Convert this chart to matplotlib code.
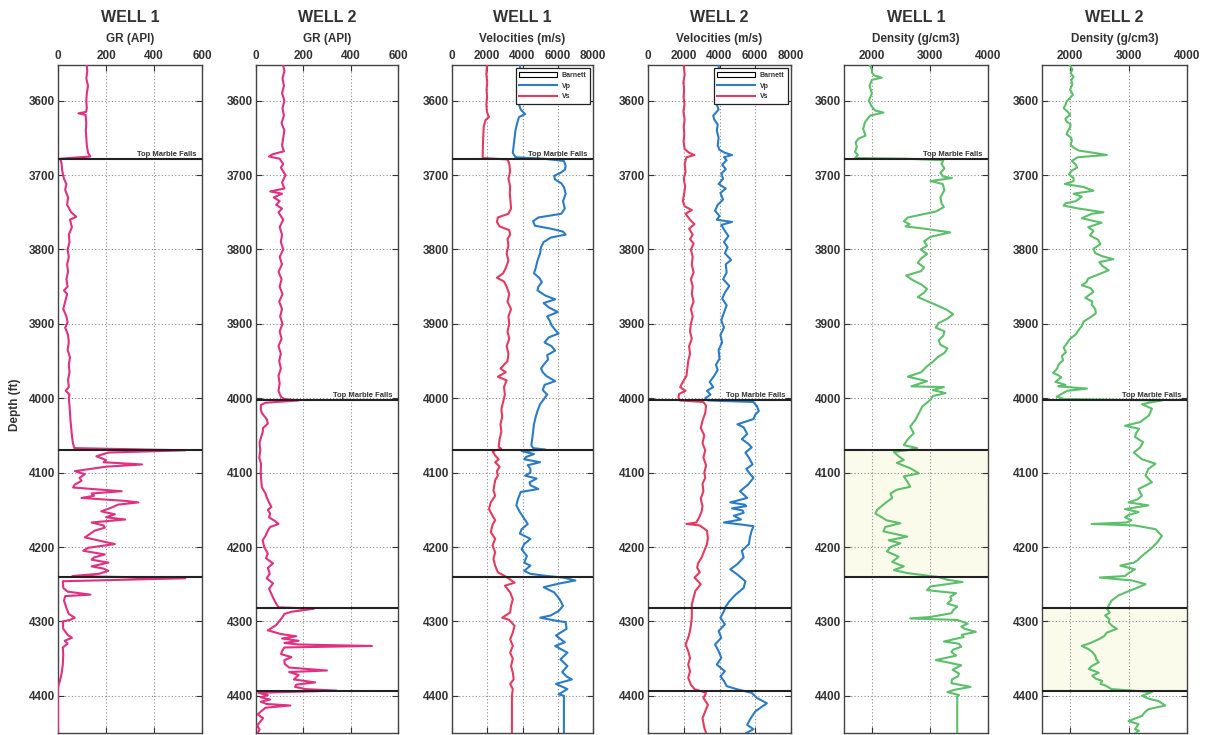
import matplotlib
matplotlib.use("Agg")
import matplotlib.pyplot as plt
from matplotlib.patches import Patch
from matplotlib.lines import Line2D
import matplotlib.transforms as mtransforms

plt.rcParams['font.family'] = ['Liberation Sans', 'DejaVu Sans']

# ---------------- data ----------------
WELL_TITLES = ["WELL 1", "WELL 2", "WELL 1", "WELL 2", "WELL 1", "WELL 2"]
TRACK_LABELS = ["GR (API)", "GR (API)", "Velocities (m/s)", "Velocities (m/s)",
                "Density (g/cm3)", "Density (g/cm3)"]
DEPTH_TICKS = [3600, 3700, 3800, 3900, 4000, 4100, 4200, 4300, 4400]
GR_TICKS = [0, 200, 400, 600]
VEL_TICKS = [0, 2000, 4000, 6000, 8000]
DEN_TICKS = [2000, 3000, 4000]
LEGEND_LABELS = ["Barnett", "Vp", "Vs"]
TOP_LABEL = "Top Marble Falls"

# formation tops (ft): Top Marble Falls, Barnett top, Barnett base
W1_TOPS = [3678, 4070, 4240]
W2_TOPS = [4003, 4282, 4393]

GR1_DEPTH = [3553,3560,3570,3580,3590,3600,3610,3615,3617,3619,3630,3640,3650,3660,3670,3675,3678,
             3685,3695,3705,3712,3720,3730,3740,3750,3756,3760,3770,3780,3790,3800,3810,3820,3830,
             3840,3850,3855,3860,3870,3880,3890,3898,3905,3915,3925,3935,3945,3955,3965,3975,3985,
             3990,3995,4000,4010,4020,4030,4040,4050,4060,4067,4070,4073,4078,4083,4086,4089,4092,
             4098,4102,4107,4111,4116,4120,4125,4128,4131,4134,4138,4140,4143,4147,4152,4156,4160,
             4163,4167,4171,4174,4178,4183,4187,4192,4196,4201,4205,4210,4214,4217,4221,4226,4229,
             4232,4236,4239,4242,4246,4255,4260,4264,4266,4272,4282,4290,4295,4298,4300,4310,4318,
             4322,4326,4330,4335,4345,4358,4370,4380,4386,4390,4450]
GR1_VALUES = [120,122,118,125,120,118,120,117,85,115,118,116,118,120,125,135,10,
              15,18,25,35,30,42,38,55,76,50,58,45,48,40,45,38,42,
              35,40,25,38,30,22,35,40,30,42,45,40,50,45,48,42,45,
              32,48,45,48,50,52,55,58,62,68,530,210,160,200,190,350,200,
              70,112,90,98,70,63,265,140,150,98,280,335,250,223,180,237,200,
              280,140,190,195,153,130,112,180,237,126,105,195,150,140,210,140,190,
              210,170,60,530,20,22,40,135,30,25,35,45,70,50,20,22,40,
              58,28,40,20,22,20,15,8,2,0,0]

GR2_DEPTH = [3553,3560,3570,3580,3590,3600,3610,3620,3630,3640,3650,3660,3668,3672,3675,3678,3685,
             3690,3700,3710,3718,3722,3725,3730,3735,3740,3745,3750,3760,3770,3780,3790,3800,3810,
             3820,3830,3840,3850,3860,3870,3880,3890,3900,3910,3920,3930,3940,3950,3960,3970,3980,
             3990,3998,4001,4003,4006,4009,4015,4020,4028,4034,4040,4046,4054,4060,4070,4080,4088,
             4100,4110,4120,4128,4133,4140,4146,4150,4155,4160,4165,4169,4173,4178,4185,4191,4200,
             4209,4215,4222,4228,4236,4242,4249,4256,4263,4270,4276,4281,4283,4287,4290,4295,4299,
             4305,4312,4317,4320,4323,4326,4329,4331,4333,4335,4340,4344,4348,4352,4357,4362,4366,
             4368,4372,4375,4378,4382,4385,4388,4391,4393,4396,4399,4402,4405,4408,4411,4413,4416,
             4420,4425,4430,4434,4440,4445,4450]
GR2_VALUES = [115,120,112,118,110,120,112,118,108,120,115,110,118,70,55,100,115,
              105,125,110,120,60,110,75,100,85,110,95,115,100,110,105,115,100,
              110,95,108,100,112,98,110,102,112,100,108,95,105,98,105,95,100,
              95,105,120,180,40,21,20,25,45,50,30,28,20,15,18,14,21,
              20,22,25,40,45,55,65,50,60,55,80,95,60,50,40,28,35,
              50,42,72,50,58,45,72,55,65,75,85,95,245,150,120,110,100,
              85,50,106,170,110,180,120,180,490,120,110,106,150,120,121,140,300,
              140,180,170,160,250,170,165,210,340,10,50,20,60,20,45,145,40,
              25,7,30,20,5,15,8]

VS1_DEPTH = [3553,3565,3575,3585,3595,3605,3615,3622,3626,3635,3645,3655,3665,3675,3677,3679,3685,
             3695,3705,3715,3725,3735,3745,3752,3757,3763,3769,3774,3780,3786,3795,3805,3815,3825,
             3832,3838,3843,3850,3860,3870,3880,3890,3900,3910,3920,3930,3940,3950,3960,3965,3971,
             3976,3985,3995,4005,4015,4025,4035,4045,4055,4065,4068,4071,4077,4082,4086,4092,4098,
             4104,4110,4117,4124,4131,4140,4149,4158,4164,4170,4180,4189,4198,4207,4216,4225,4234,
             4239,4242,4248,4252,4261,4270,4279,4288,4295,4298,4306,4315,4324,4333,4342,4350,4360,
             4369,4378,4384,4391,4400,4450]
VS1_VALUES = [1980,1950,2000,1960,1990,1950,1980,2100,1900,1800,1780,1760,1750,1740,1750,3150,3250,
              3300,3200,3300,3280,3320,3350,3200,2600,2550,2700,3250,3300,3150,3200,3100,3200,3050,
              2900,2550,2950,3100,3250,3150,3350,3200,3250,3150,3250,3100,3200,3150,2750,3050,2600,
              3100,2950,3000,2900,2800,2850,2750,2800,2700,2650,2800,2300,2450,2650,2450,2700,2550,
              2600,2450,2400,2350,2450,2200,2100,2300,2450,2300,2200,2450,2300,2450,2350,2450,2600,
              3000,3200,3550,3000,3300,3450,3350,3300,2850,3250,3550,3450,3300,3450,3300,3450,3350,
              3450,3500,3300,3450,3400,3400]

VP1_DEPTH = [3553,3565,3575,3585,3595,3605,3612,3618,3622,3630,3640,3650,3660,3670,3676,3678,3681,
             3688,3693,3697,3701,3706,3711,3716,3725,3735,3745,3752,3757,3762,3768,3772,3776,3780,
             3784,3790,3797,3805,3815,3825,3832,3838,3844,3850,3855,3862,3867,3872,3878,3884,3890,
             3896,3902,3908,3913,3918,3925,3930,3936,3942,3948,3955,3960,3965,3970,3977,3982,3989,
             3995,4000,4008,4017,4025,4035,4045,4055,4063,4067,4069,4071,4075,4079,4082,4086,4090,
             4095,4100,4104,4108,4113,4117,4122,4126,4135,4144,4153,4162,4169,4176,4182,4189,4196,
             4203,4212,4221,4225,4232,4236,4239,4241,4245,4249,4254,4261,4270,4279,4286,4292,4295,
             4299,4301,4310,4319,4328,4333,4342,4351,4360,4368,4374,4378,4384,4391,4398,4400,4450]
VP1_VALUES = [3850,3900,3800,3950,3850,3800,3900,4150,3800,3700,3600,3550,3500,3450,3600,5200,6350,
              6450,6400,6150,5800,5850,6200,6350,6450,6300,6400,6200,4900,4600,4700,5600,6300,6450,
              5600,5200,5050,5000,4850,4750,4650,4950,5100,4900,4850,5300,5850,5200,5500,6000,5400,
              5550,5650,5850,6050,5500,5250,5650,5850,5400,5450,5200,5050,5150,5350,5850,5250,5150,
              5400,5250,5000,4850,4750,4650,4600,4550,4500,4600,5300,3950,4650,4200,4100,5000,4300,
              4450,4450,4150,4800,4400,4450,4900,3900,3750,3650,3850,4100,4300,3950,3850,4450,4100,
              3950,4250,4100,4450,4100,4450,5400,6300,7000,6100,5200,5800,6100,6300,6050,5600,5000,
              5900,6450,6500,5900,6400,5850,6550,6150,6550,6250,6500,6800,5900,6550,6050,6350,6350]

VS2_DEPTH = [3553,3565,3575,3585,3595,3605,3615,3625,3635,3645,3655,3665,3670,3673,3676,3685,3695,
             3705,3715,3725,3735,3742,3747,3752,3760,3766,3772,3780,3786,3792,3800,3810,3820,3831,
             3840,3850,3860,3870,3880,3890,3900,3910,3920,3930,3940,3950,3960,3970,3978,3985,3990,
             3994,3999,4003,4005,4010,4020,4030,4040,4050,4060,4070,4080,4090,4100,4107,4115,4125,
             4135,4145,4152,4161,4167,4169,4171,4178,4188,4196,4205,4214,4222,4228,4234,4241,4250,
             4259,4268,4277,4286,4295,4305,4313,4322,4331,4340,4349,4358,4367,4376,4385,4391,4396,
             4403,4412,4421,4430,4443,4450]
VS2_VALUES = [2000,2050,1980,2020,1990,2040,1980,2050,2000,2030,1990,2050,2300,2600,2150,2050,2100,
              2000,2080,2020,1950,2050,2450,2100,2350,2600,2300,2500,2350,2550,2400,2500,2450,2550,
              2400,2500,2450,2550,2400,2500,2400,2350,2450,2300,2350,2250,2200,2150,1950,1800,2100,
              1750,1700,1800,3100,3250,3200,3050,2950,3150,3050,3200,3100,3250,3150,3200,3050,3100,
              2950,3050,3000,2850,2700,2150,2900,3300,3350,3300,3150,3000,2800,2750,2900,2600,2950,
              2650,2550,2450,2450,2450,2400,2350,2250,2100,2250,2350,2250,2350,2250,2400,2600,3250,
              3100,3350,3200,3050,3150,3250]

VP2_DEPTH = [3553,3565,3575,3585,3595,3605,3612,3620,3625,3632,3640,3650,3660,3666,3670,3673,3676,
             3680,3686,3692,3698,3705,3712,3718,3724,3733,3740,3748,3755,3760,3763,3767,3775,3782,
             3790,3797,3805,3814,3820,3831,3840,3849,3858,3866,3875,3885,3895,3905,3915,3925,3935,
             3947,3955,3962,3970,3978,3985,3990,3995,4000,4003,4005,4011,4017,4022,4028,4035,4039,
             4048,4055,4061,4066,4073,4080,4089,4095,4100,4107,4116,4125,4134,4140,4143,4145,4148,
             4151,4154,4158,4163,4167,4170,4172,4178,4187,4196,4205,4214,4223,4230,4237,4246,4255,
             4264,4273,4280,4286,4295,4304,4313,4322,4331,4340,4349,4358,4367,4374,4380,4387,4391,
             4396,4403,4410,4416,4421,4430,4439,4445,4450]
VP2_VALUES = [3950,4000,3900,3980,3900,3850,3950,3650,3700,3900,3850,3950,3900,4000,4300,4700,4250,
              4400,4150,4350,4100,4200,3950,4350,4050,4200,3900,3750,4000,3850,4700,4100,4300,4500,
              4250,4450,4300,4650,4350,4400,4200,4550,4300,4150,4400,4250,4100,4250,4050,4150,3950,
              4000,3800,3900,3700,3450,3650,3300,3500,3200,3350,5900,6100,6200,6000,5900,5000,5350,
              5550,5250,5600,5800,5450,5650,5850,5500,5650,5900,5600,5150,5550,4600,5400,5500,4700,
              5300,5350,4800,5200,4250,5300,5900,5800,5700,5650,5250,5350,5000,4600,5000,5450,5350,
              4900,4550,4350,4250,4050,4300,3950,4100,3750,3950,4100,3850,4300,4050,4250,4400,4950,
              5800,6100,6650,6300,6000,5750,5550,5900,5500]

RHO1_DEPTH = [3553,3558,3562,3566,3569,3572,3580,3590,3600,3607,3613,3616,3620,3629,3638,3647,3651,
              3656,3662,3669,3673,3677,3678,3680,3685,3691,3697,3702,3704,3708,3712,3720,3730,3738,
              3743,3749,3757,3762,3766,3769,3772,3777,3783,3789,3795,3800,3806,3812,3818,3824,3829,
              3835,3841,3847,3853,3858,3864,3873,3881,3887,3893,3899,3905,3910,3916,3922,3928,3933,
              3939,3945,3951,3957,3965,3971,3977,3984,3985,3989,3993,3997,4002,4011,4020,4029,4038,
              4047,4056,4063,4067,4070,4072,4078,4083,4087,4094,4101,4105,4112,4119,4123,4128,4134,
              4141,4150,4155,4159,4164,4168,4173,4179,4186,4191,4195,4200,4206,4213,4220,4226,4231,
              4235,4239,4240,4244,4247,4253,4258,4262,4267,4271,4276,4280,4285,4289,4294,4296,4298,
              4303,4307,4310,4314,4318,4321,4327,4330,4334,4338,4341,4346,4352,4355,4359,4365,4370,
              4374,4378,4383,4388,4392,4395,4399,4401,4450]
RHO1_VALUES = [1970,2000,2000,2040,2170,2000,1960,2000,1950,1990,2050,2200,1970,1880,1850,1890,1770,
               1720,1740,1710,1760,1710,2600,3230,3200,3250,3180,3230,3380,3010,3220,3250,3180,3200,
               3240,3100,2620,2550,2650,2580,2900,3350,3010,2900,2950,2840,2950,2850,2790,2900,2850,
               2590,2700,2850,2950,2900,2790,3060,3290,3400,3300,3150,3100,3250,3230,3150,3180,3300,
               3250,3130,3050,2950,2850,2620,2950,2680,3240,3050,3270,3050,3010,2870,2810,2750,2660,
               2720,2610,2550,2780,2600,2380,2460,2550,2430,2660,2810,2550,2610,2660,2430,2320,2350,
               2230,2090,2060,2150,2250,2490,2230,2200,2610,2290,2490,2320,2260,2460,2350,2550,2380,
               2610,3010,3130,3300,3560,3010,2950,3450,3350,3370,3300,3470,3400,3370,3010,2660,3470,
               3650,3540,3600,3790,3550,3580,3240,3500,3540,3400,3370,3450,3100,3300,3540,3390,3500,
               3480,3380,3370,3700,3420,3300,3500,3470,3470]

RHO2_DEPTH = [3553,3558,3563,3568,3572,3578,3585,3592,3597,3601,3606,3610,3615,3619,3624,3628,3632,
              3636,3641,3645,3650,3654,3659,3663,3667,3670,3673,3676,3681,3686,3690,3694,3699,3704,
              3708,3712,3716,3721,3725,3729,3735,3738,3741,3745,3750,3752,3758,3764,3770,3775,3781,
              3787,3793,3799,3805,3809,3813,3817,3822,3828,3833,3839,3844,3848,3852,3857,3861,3865,
              3870,3874,3880,3886,3891,3897,3903,3909,3914,3920,3926,3932,3938,3943,3949,3955,3960,
              3966,3969,3972,3978,3982,3984,3987,3990,3994,3998,4001,4003,4006,4008,4014,4023,4032,
              4037,4041,4047,4052,4059,4066,4073,4082,4088,4095,4104,4113,4122,4131,4136,4140,4144,
              4149,4153,4157,4160,4164,4167,4169,4171,4176,4185,4194,4203,4212,4218,4221,4225,4230,
              4235,4239,4241,4245,4250,4256,4261,4265,4272,4279,4283,4288,4292,4297,4301,4306,4310,
              4315,4320,4324,4329,4333,4337,4341,4346,4351,4355,4360,4364,4369,4373,4377,4380,4384,
              4386,4391,4395,4400,4404,4407,4413,4418,4422,4427,4434,4438,4445,4447,4450]
RHO2_VALUES = [2000,2040,2010,2060,2020,2040,2000,2050,1990,1940,1920,1890,1960,2000,1920,1940,2010,
               2000,1960,1940,2020,2030,2010,2060,2150,2400,2630,2130,2030,2100,2120,2030,1980,2060,
               2060,1910,2230,2400,2060,2200,2100,1920,1890,2150,2570,2370,2200,2540,2310,2400,2340,
               2480,2520,2400,2430,2550,2740,2500,2550,2660,2500,2310,2280,2200,2350,2400,2330,2260,
               2380,2370,2430,2440,2350,2230,2200,2140,2100,2000,1950,1890,1930,1860,1880,1800,1780,
               1710,1800,1850,1750,1920,1800,2290,1950,1860,1770,1900,3570,3350,3230,3400,3350,3200,
               2940,3180,3130,3110,3250,3200,3090,3230,3460,3340,3290,3400,3170,3230,3150,3000,3340,
               2940,3170,3000,2940,3050,2970,2370,3110,3460,3570,3490,3370,3230,3150,3090,2860,3110,
               3000,2940,2510,3060,3290,3110,2950,2830,2710,2660,2630,2680,2600,2670,2660,2720,2800,
               2630,2580,2490,2350,2200,2310,2380,2430,2450,2490,2370,2320,2490,2380,2440,2550,2520,
               2600,2710,3400,3230,3350,3510,3630,3340,3280,3230,3000,3170,3110,3180,3120]

# ---------------- style ----------------
GR_COLOR = "#e0307f"
VS_COLOR = "#e53a60"
VP_COLOR = "#2b7cc6"
RHO_COLOR = "#5cbf6a"
TEXT_COLOR = "#333333"
BARNETT_FILL = "#fbfbec"

W, H = 1205, 735
fig = plt.figure(figsize=(W / 100, H / 100), dpi=100)

panel_x = [(58, 202), (256, 398), (452, 593), (648, 791), (844, 988), (1042, 1187)]
top_px, bot_px = 65, 733
YLIM = (4450, 3552)


def make_ax(i):
    x0, x1 = panel_x[i]
    ax = fig.add_axes([x0 / W, 1 - bot_px / H, (x1 - x0) / W, (bot_px - top_px) / H])
    ax.set_ylim(*YLIM)
    ax.set_yticks(DEPTH_TICKS)
    ax.xaxis.tick_top()
    ax.tick_params(direction='in', top=True, bottom=True, left=True, right=True,
                   labeltop=True, labelbottom=False, length=4, width=0.8,
                   labelsize=8.5, colors=TEXT_COLOR, pad=2)
    ax.grid(True, linestyle=(0, (1, 2)), color='#888888', linewidth=0.8)
    ax.set_axisbelow(True)
    for s in ax.spines.values():
        s.set_color('#444444')
        s.set_linewidth(1.0)
    cx = (x0 + x1) / 2 / W
    fig.text(cx, 1 - 18 / H, WELL_TITLES[i], ha='center', va='center',
             fontsize=11.5, fontweight='bold', color=TEXT_COLOR)
    fig.text(cx, 1 - 39 / H, TRACK_LABELS[i], ha='center', va='center',
             fontsize=8.5, fontweight='bold', color=TEXT_COLOR)
    return ax


def style_ticks(ax):
    for lab in ax.get_xticklabels() + ax.get_yticklabels():
        lab.set_fontweight('bold')


def add_tops(ax, tops, fill):
    trans = mtransforms.blended_transform_factory(ax.transAxes, ax.transData)
    if fill:
        ax.axhspan(tops[1], tops[2], color=BARNETT_FILL, zorder=0)
    for t in tops:
        ax.axhline(t, color='#222222', linewidth=1.5, zorder=4)
    ax.text(0.96, tops[0] - 1.5, TOP_LABEL, transform=trans, ha='right', va='bottom',
            fontsize=5.5, fontweight='bold', color=TEXT_COLOR, zorder=5)


lw = 1.5

# GR panels
ax = make_ax(0)
ax.set_xlim(0, 600); ax.set_xticks(GR_TICKS)
ax.plot(GR1_VALUES, GR1_DEPTH, color=GR_COLOR, lw=lw, zorder=3)
add_tops(ax, W1_TOPS, False); style_ticks(ax)

ax = make_ax(1)
ax.set_xlim(0, 600); ax.set_xticks(GR_TICKS)
ax.plot(GR2_VALUES, GR2_DEPTH, color=GR_COLOR, lw=lw, zorder=3)
add_tops(ax, W2_TOPS, False); style_ticks(ax)

# Velocity panels
for i, (vsd, vsv, vpd, vpv, tops) in enumerate([
        (VS1_DEPTH, VS1_VALUES, VP1_DEPTH, VP1_VALUES, W1_TOPS),
        (VS2_DEPTH, VS2_VALUES, VP2_DEPTH, VP2_VALUES, W2_TOPS)]):
    ax = make_ax(2 + i)
    ax.set_xlim(0, 8000); ax.set_xticks(VEL_TICKS)
    ax.plot(vsv, vsd, color=VS_COLOR, lw=lw, zorder=3)
    ax.plot(vpv, vpd, color=VP_COLOR, lw=lw, zorder=3)
    add_tops(ax, tops, False); style_ticks(ax)
    handles = [Patch(facecolor='white', edgecolor='black', linewidth=0.8, label=LEGEND_LABELS[0]),
               Line2D([], [], color=VP_COLOR, lw=1.5, label=LEGEND_LABELS[1]),
               Line2D([], [], color=VS_COLOR, lw=1.5, label=LEGEND_LABELS[2])]
    leg = ax.legend(handles=handles, loc='upper right', fontsize=5, handlelength=5.5,
                    handleheight=0.9, borderaxespad=0.5, fancybox=False, framealpha=1,
                    edgecolor='#222222', labelspacing=0.5, borderpad=0.45, handletextpad=0.6)
    leg.get_frame().set_linewidth(0.9)
    for t in leg.get_texts():
        t.set_fontweight('bold'); t.set_color(TEXT_COLOR)
    leg.set_zorder(6)

# Density panels
for i, (d, v, tops) in enumerate([(RHO1_DEPTH, RHO1_VALUES, W1_TOPS),
                                  (RHO2_DEPTH, RHO2_VALUES, W2_TOPS)]):
    ax = make_ax(4 + i)
    ax.set_xlim(1520, 4000); ax.set_xticks(DEN_TICKS)
    ax.plot(v, d, color=RHO_COLOR, lw=lw, zorder=3)
    add_tops(ax, tops, True); style_ticks(ax)

fig.text(15 / W, 1 - 405 / H, "Depth (ft)", rotation=90, ha='center', va='center',
         fontsize=8.5, fontweight='bold', color=TEXT_COLOR)

fig.savefig("out.png", dpi=100, facecolor='white')
